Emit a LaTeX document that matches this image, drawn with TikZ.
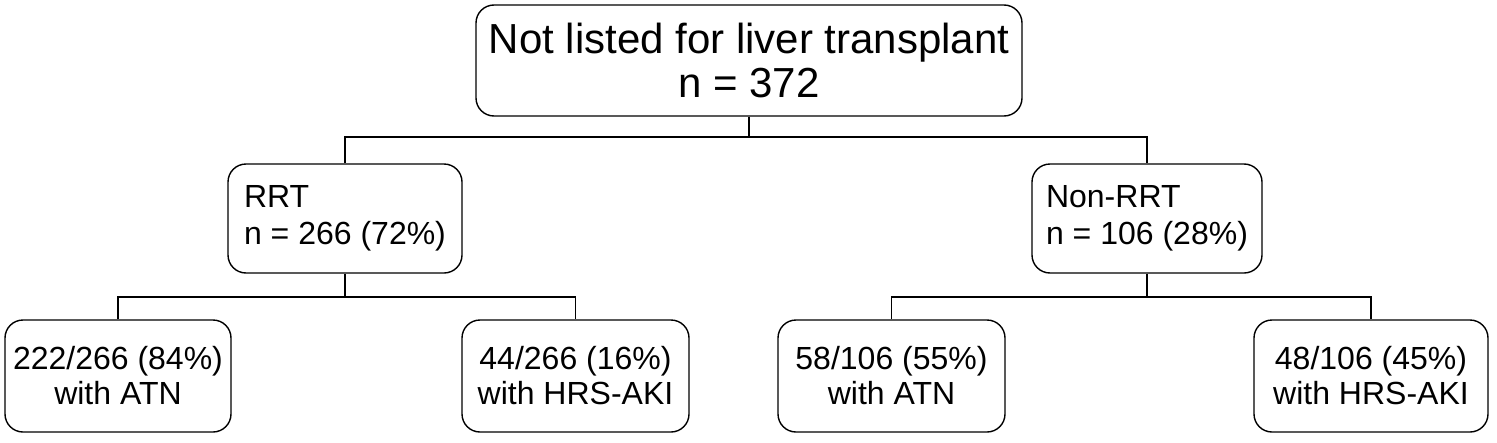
\documentclass[tikz,border=0pt]{standalone}
\usepackage{fontspec}
\setmainfont{Liberation Sans}
\begin{document}
\begin{tikzpicture}[x=1pt,y=-1pt,
 bx/.style={draw,line width=1.4pt,rounded corners=18pt,inner sep=0pt},
 ln/.style={line width=1.4pt}]
\useasboundingbox[fill=white] (0,0) rectangle (1497,442);
\node[bx,minimum width=546pt,minimum height=111pt,align=center,font=\fontsize{42}{44}\selectfont] (top) at (749,60.5) {Not listed for liver transplant\\n = 372};
\node[bx,minimum width=234pt,minimum height=109pt,align=left,font=\fontsize{32}{37}\selectfont] (rrt) at (345,218.5) {RRT\\n = 266 (72\%)};
\node[bx,minimum width=230pt,minimum height=109pt,align=left,font=\fontsize{32}{37}\selectfont] (non) at (1147,218.5) {Non-RRT\\n = 106 (28\%)};
\tikzset{bt/.style={bx,minimum height=112pt,align=center,font=\fontsize{32}{35}\selectfont}}
\node[bt,minimum width=226pt] (a) at (118,376) {222/266 (84\%)\\with ATN};
\node[bt,minimum width=227pt] (b) at (575.5,376) {44/266 (16\%)\\with HRS-AKI};
\node[bt,minimum width=227pt] (c) at (891.5,376) {58/106 (55\%)\\with ATN};
\node[bt,minimum width=234pt] (d) at (1371,376) {48/106 (45\%)\\with HRS-AKI};
\coordinate (j1) at (749,137);
\coordinate (j2) at (345,297);
\coordinate (j3) at (1147,297);
\draw[ln] (top.south) -- (j1);
\draw[ln] (rrt.north) |- (j1) -| (non.north);
\draw[ln] (rrt.south) -- (j2);
\draw[ln] (a.north) |- (j2) -| (b.north);
\draw[ln] (non.south) -- (j3);
\draw[ln] (c.north) |- (j3) -| (d.north);
\end{tikzpicture}
\end{document}
